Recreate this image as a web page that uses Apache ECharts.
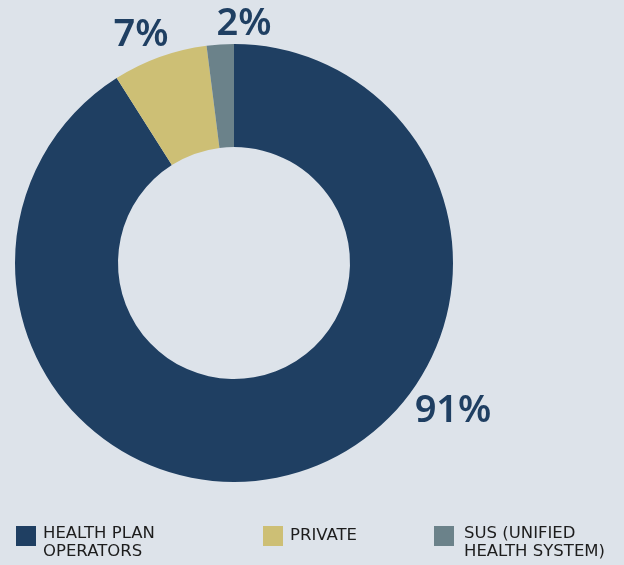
<!DOCTYPE html>
<html>
<head>
<meta charset="utf-8">
<script src="https://cdn.jsdelivr.net/npm/echarts@6/dist/echarts.min.js"></script>
<style>
  html, body { margin: 0; padding: 0; background: #dde3ea; }
  #chart { width: 624px; height: 565px; }
</style>
</head>
<body>
<div id="chart"></div>
<script>
// Source of payment shares (%)
const categories = ['HEALTH PLAN OPERATORS', 'PRIVATE', 'SUS (UNIFIED HEALTH SYSTEM)'];
const shares = [91, 7, 2];
const legendLines = [['HEALTH PLAN', 'OPERATORS'], ['PRIVATE'], ['SUS (UNIFIED', 'HEALTH SYSTEM)']];

const colors = ['#1f3f62', '#cdbf75', '#6b828a'];
// Where each percentage label sits
const labelSpots = [[453, 411], [141, 35], [244, 24]];
const legendLefts = [16, 263, 434];

const chart = echarts.init(document.getElementById('chart'), null, { renderer: 'canvas' });

const lineStyle = {
  fontFamily: 'DejaVu Sans',
  fontSize: 16.5,
  lineHeight: 18,
  color: '#1d1d1d'
};

// Two-line entries start with a short blank spacer line so the first text line
// sits level with the swatch; the legend box is lifted by the part that rises above it.
const legends = categories.map((name, i) => {
  const lines = legendLines[i];
  const twoLines = lines.length > 1;
  return {
    left: legendLefts[i],
    top: twoLines ? 511.5 : 526,
    padding: 0,
    itemWidth: 20,
    itemHeight: 20,
    icon: 'rect',
    selectedMode: false,
    data: [name],
    formatter: () => twoLines
      ? '{s| }\n' + lines.map(t => '{a|' + t + '}').join('\n')
      : lines[0],
    textStyle: Object.assign({}, lineStyle, {
      padding: [0, 0, 0, i === 2 ? 5 : 2],
      rich: {
        a: Object.assign({}, lineStyle),
        s: { fontSize: 4, lineHeight: 13 }
      }
    })
  };
});

chart.setOption({
  backgroundColor: '#dde3ea',
  animation: false,
  color: colors,
  legend: legends,
  series: [{
    type: 'pie',
    center: [234, 263],
    radius: [116, 219],
    startAngle: 90,
    clockwise: true,
    silent: true,
    label: {
      show: true,
      position: 'outside',
      formatter: '{c}%',
      fontFamily: 'Noto Sans',
      fontWeight: 600,
      fontSize: 38,
      color: '#1f3f62'
    },
    labelLine: { show: false },
    labelLayout: (params) => ({
      x: labelSpots[params.dataIndex][0],
      y: labelSpots[params.dataIndex][1],
      align: 'center',
      verticalAlign: 'middle'
    }),
    data: categories.map((name, i) => ({ name: name, value: shares[i] }))
  }]
});
</script>
</body>
</html>
